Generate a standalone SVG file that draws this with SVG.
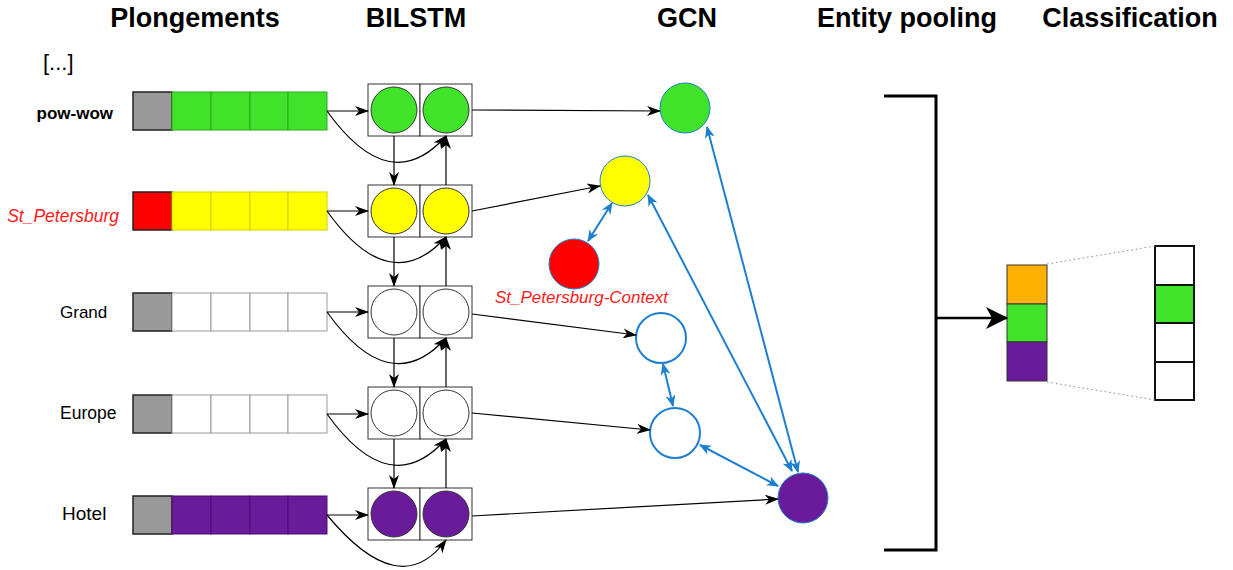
<svg xmlns="http://www.w3.org/2000/svg" width="1233" height="570" viewBox="0 0 1233 570">
<style>
.title{font-family:"Liberation Sans",Arial,sans-serif;font-weight:bold;font-size:27px;fill:#000;text-anchor:middle}
.lbl{font-family:"Liberation Sans",Arial,sans-serif;font-size:17px;fill:#000}
.red{fill:#FF1A1A;font-style:italic}
.box{fill:#fff;stroke:#333;stroke-width:1}
.cell{stroke-width:1}
.g{fill:#40E32A;stroke:#2FA820}
.y{fill:#FFFF00;stroke:#CFCF00}
.p{fill:#6A1B9A;stroke:#4A0F70}
.w{fill:#fff;stroke:#999}
.first{fill:#999;stroke:#222;stroke-width:1.5}
.lc{stroke:#333;stroke-width:1}
.gcn{stroke:#1E7FD0;stroke-width:1}
.gcnw{fill:#fff;stroke:#1E7FD0;stroke-width:2}
.blk{fill:none;stroke:#000;stroke-width:1.2;marker-end:url(#ab)}
.blu{fill:none;stroke:#1E7FD0;stroke-width:2;marker-end:url(#au);marker-start:url(#au)}
</style>
<defs>
<marker id="ab" markerUnits="userSpaceOnUse" markerWidth="14" markerHeight="10" refX="13" refY="5" orient="auto-start-reverse" viewBox="0 0 14 10">
<path d="M0,0 L14,5 L0,10 L4,5 z" fill="#000"/>
</marker>
<marker id="au" markerUnits="userSpaceOnUse" markerWidth="12" markerHeight="10" refX="11" refY="5" orient="auto-start-reverse" viewBox="0 0 12 10">
<path d="M0,0 L12,5 L0,10 L3.5,5 z" fill="#1E7FD0"/>
</marker>
<marker id="abig" markerUnits="userSpaceOnUse" markerWidth="22" markerHeight="22" refX="21" refY="11" orient="auto" viewBox="0 0 22 22">
<path d="M0,0 L22,11 L0,22 L6,11 z" fill="#000"/>
</marker>
</defs>
<rect width="1233" height="570" fill="#fff"/>

<g id="titles">
<text class="title" x="195" y="27">Plongements</text>
<text class="title" x="416" y="27">BILSTM</text>
<text class="title" x="687" y="27">GCN</text>
<text class="title" x="907" y="27">Entity pooling</text>
<text class="title" x="1130" y="27">Classification</text>
<text x="43" y="70" font-family="Liberation Sans, Arial, sans-serif" font-size="22">[...]</text>
</g>

<g id="labels">
<text class="lbl" x="113" y="119" text-anchor="end" style="font-weight:bold">pow-wow</text>
<text class="lbl red" x="119" y="222" text-anchor="end" style="font-size:17.5px">St_Petersburg</text>
<text class="lbl" x="60" y="318">Grand</text>
<text class="lbl" x="60" y="419" style="font-size:17.5px">Europe</text>
<text class="lbl" x="62" y="520" style="font-size:19px">Hotel</text>
</g>

<g id="emb-powwow">
<rect class="first" x="133" y="92" width="39" height="38"/>
<rect class="cell g" x="172" y="92" width="39" height="38"/>
<rect class="cell g" x="211" y="92" width="39" height="38"/>
<rect class="cell g" x="250" y="92" width="38" height="38"/>
<rect class="cell g" x="288" y="92" width="39" height="38"/>
</g>
<g id="emb-stpetersburg">
<rect x="133" y="192" width="39" height="38" fill="#FF0000" stroke="#222" stroke-width="1.5"/>
<rect class="cell y" x="172" y="192" width="39" height="38"/>
<rect class="cell y" x="211" y="192" width="39" height="38"/>
<rect class="cell y" x="250" y="192" width="38" height="38"/>
<rect class="cell y" x="288" y="192" width="39" height="38"/>
</g>
<g id="emb-grand">
<rect class="first" x="133" y="293" width="39" height="38"/>
<rect class="cell w" x="172" y="293" width="39" height="38"/>
<rect class="cell w" x="211" y="293" width="39" height="38"/>
<rect class="cell w" x="250" y="293" width="38" height="38"/>
<rect class="cell w" x="288" y="293" width="39" height="38"/>
</g>
<g id="emb-europe">
<rect class="first" x="133" y="395" width="39" height="38"/>
<rect class="cell w" x="172" y="395" width="39" height="38"/>
<rect class="cell w" x="211" y="395" width="39" height="38"/>
<rect class="cell w" x="250" y="395" width="38" height="38"/>
<rect class="cell w" x="288" y="395" width="39" height="38"/>
</g>
<g id="emb-hotel">
<rect class="first" x="133" y="496" width="39" height="38"/>
<rect class="cell p" x="172" y="496" width="39" height="38"/>
<rect class="cell p" x="211" y="496" width="39" height="38"/>
<rect class="cell p" x="250" y="496" width="38" height="38"/>
<rect class="cell p" x="288" y="496" width="39" height="38"/>
</g>

<g id="lstm-1">
<rect class="box" x="368" y="84" width="52" height="52"/><rect class="box" x="420" y="84" width="52" height="52"/>
<circle cx="394" cy="110" r="23" fill="#40E32A" class="lc"/><circle cx="446" cy="110" r="23" fill="#40E32A" class="lc"/>
</g>
<g id="lstm-2">
<rect class="box" x="368" y="185" width="52" height="52"/><rect class="box" x="420" y="185" width="52" height="52"/>
<circle cx="394" cy="211" r="23" fill="#FFFF00" class="lc"/><circle cx="446" cy="211" r="23" fill="#FFFF00" class="lc"/>
</g>
<g id="lstm-3">
<rect class="box" x="368" y="286" width="52" height="52"/><rect class="box" x="420" y="286" width="52" height="52"/>
<circle cx="394" cy="312" r="23" fill="#fff" class="lc"/><circle cx="446" cy="312" r="23" fill="#fff" class="lc"/>
</g>
<g id="lstm-4">
<rect class="box" x="368" y="387" width="52" height="52"/><rect class="box" x="420" y="387" width="52" height="52"/>
<circle cx="394" cy="413" r="23" fill="#fff" class="lc"/><circle cx="446" cy="413" r="23" fill="#fff" class="lc"/>
</g>
<g id="lstm-5">
<rect class="box" x="368" y="488" width="52" height="52"/><rect class="box" x="420" y="488" width="52" height="52"/>
<circle cx="394" cy="514" r="23" fill="#6A1B9A" class="lc"/><circle cx="446" cy="514" r="23" fill="#6A1B9A" class="lc"/>
</g>

<g id="gcn-green"><circle cx="685" cy="108" r="25" fill="#40E32A" class="gcn"/></g>
<g id="gcn-yellow"><circle cx="625" cy="181" r="25" fill="#FFFF00" class="gcn"/></g>
<g id="gcn-red"><circle cx="574" cy="264" r="25" fill="#FF0000" class="gcn"/>
<text class="lbl red" x="495" y="303">St_Petersburg-Context</text></g>
<g id="gcn-white1"><circle cx="661" cy="338" r="25" class="gcnw"/></g>
<g id="gcn-white2"><circle cx="675" cy="433" r="25" class="gcnw"/></g>
<g id="gcn-purple"><circle cx="803" cy="498" r="25" fill="#6A1B9A" class="gcn"/></g>

<g id="pooling">
<path d="M884,96 H936 V550 H884" fill="none" stroke="#000" stroke-width="3"/>
</g>
<g id="pooled">
<rect x="1007" y="265" width="40" height="39" fill="#FFB000" stroke="#333" stroke-width="1"/>
<rect x="1007" y="304" width="40" height="38" fill="#40E32A" stroke="#333" stroke-width="1"/>
<rect x="1007" y="342" width="40" height="39" fill="#6A1B9A" stroke="#333" stroke-width="1"/>
</g>
<g id="output">
<rect x="1155" y="246" width="39" height="39" fill="#fff" stroke="#111" stroke-width="2"/>
<rect x="1155" y="285" width="39" height="38" fill="#40E32A" stroke="#111" stroke-width="2"/>
<rect x="1155" y="323" width="39" height="39" fill="#fff" stroke="#111" stroke-width="2"/>
<rect x="1155" y="362" width="39" height="38" fill="#fff" stroke="#111" stroke-width="2"/>
</g>

<g id="connectors">
<path class="blk" d="M327,111 H368"/>
<path class="blk" d="M327,211 H368"/>
<path class="blk" d="M327,312 H368"/>
<path class="blk" d="M327,414 H368"/>
<path class="blk" d="M327,515 H368"/>
<path class="blk" d="M327,111 Q390,199 446,136"/>
<path class="blk" d="M327,211 Q390,299 446,237"/>
<path class="blk" d="M327,312 Q390,400 446,338"/>
<path class="blk" d="M327,414 Q390,502 446,439"/>
<path class="blk" d="M327,515 Q400,603 446,540"/>
<path class="blk" d="M394,136 V185"/>
<path class="blk" d="M394,237 V286"/>
<path class="blk" d="M394,338 V387"/>
<path class="blk" d="M394,439 V488"/>
<path class="blk" d="M446,185 V136"/>
<path class="blk" d="M446,286 V237"/>
<path class="blk" d="M446,387 V338"/>
<path class="blk" d="M446,488 V439"/>
<path class="blk" d="M472,110 L660,111"/>
<path class="blk" d="M472,211 L600,186"/>
<path class="blk" d="M472,314 L636,335"/>
<path class="blk" d="M472,413 L650,430"/>
<path class="blk" d="M472,516 L778,499"/>
<path class="blu" d="M612,203 L588,241"/>
<path class="blu" d="M648,195 L792,471"/>
<path class="blu" d="M707,127 L798,472"/>
<path class="blu" d="M663,364 L673,406"/>
<path class="blu" d="M700,445 L778,486"/>
<path d="M936,318 H1007" fill="none" stroke="#000" stroke-width="2.5" marker-end="url(#abig)"/>
<path d="M1047,264 L1155,246" fill="none" stroke="#888" stroke-width="1" stroke-dasharray="1.5,3"/>
<path d="M1047,382 L1155,400" fill="none" stroke="#888" stroke-width="1" stroke-dasharray="1.5,3"/>
</g>
</svg>
